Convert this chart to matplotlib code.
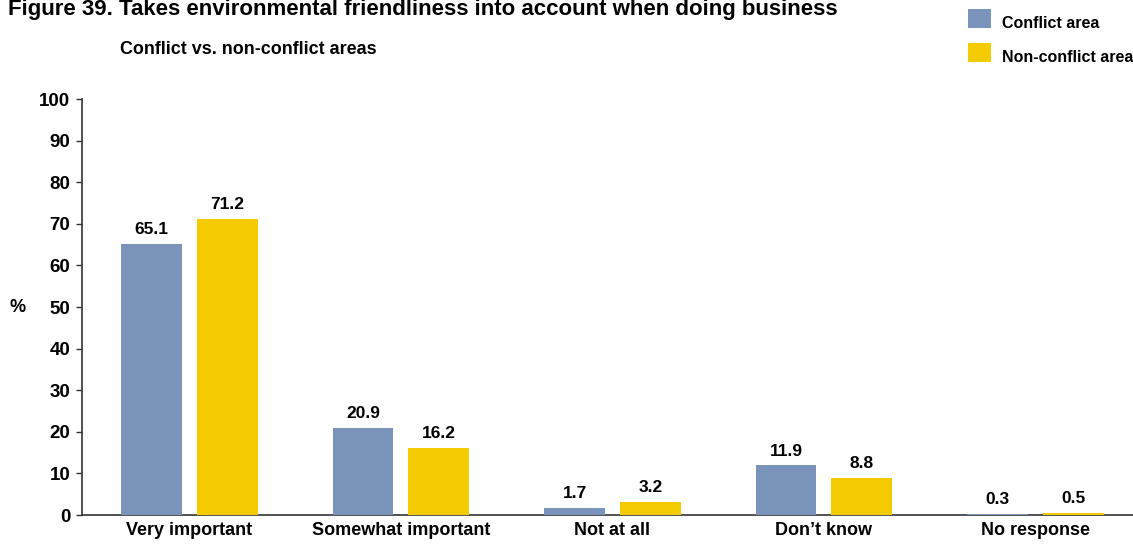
import matplotlib
matplotlib.use("Agg")
import matplotlib.pyplot as plt
from matplotlib.patches import Rectangle
from matplotlib.legend_handler import HandlerPatch
import numpy as np

categories = ["Very important", "Somewhat important", "Not at all", "Don\u2019t know", "No response"]
conflict = [65.1, 20.9, 1.7, 11.9, 0.3]
non_conflict = [71.2, 16.2, 3.2, 8.8, 0.5]
series_names = ["Conflict area", "Non-conflict area"]
yticks = [0, 10, 20, 30, 40, 50, 60, 70, 80, 90, 100]

BLUE = "#7A93BA"
YELLOW = "#F4CA00"
plt.rcParams['font.family'] = ['Liberation Sans', 'DejaVu Sans']
plt.rcParams['font.weight'] = 'bold'

W, H = 1133, 549
fig = plt.figure(figsize=(W/100, H/100), dpi=100)
ax = fig.add_axes([82/W, 1-515/H, (1133-82)/W, (515-99)/H])

x = np.arange(len(categories))
off = 0.359
bw = 0.288
b1 = ax.bar(x - off/2, conflict, bw, color=BLUE, label=series_names[0], zorder=3)
b2 = ax.bar(x + off/2, non_conflict, bw, color=YELLOW, label=series_names[1], zorder=3)
for bars, vals in ((b1, conflict), (b2, non_conflict)):
    for r, v in zip(bars, vals):
        ax.annotate(f"{v:.1f}", (r.get_x() + r.get_width()/2, v), xytext=(0, 5),
                    textcoords="offset points", ha="center", va="bottom",
                    fontsize=12.5, fontweight="bold")

ax.set_xlim(-0.508, 4.461)
ax.set_ylim(0, 100)
ax.set_yticks(yticks)
ax.set_yticklabels([str(t) for t in yticks], fontsize=13.5, fontweight="bold")
ax.set_xticks(x)
ax.set_xticklabels(categories, fontsize=13, fontweight="bold")
ax.tick_params(axis='x', length=0, pad=5)
ax.tick_params(axis='y', length=4.5, width=1, color="#333333", pad=4)
for s in ("top", "right"):
    ax.spines[s].set_visible(False)
for s in ("left", "bottom"):
    ax.spines[s].set_color("#333333")
    ax.spines[s].set_linewidth(1.2)

fig.text(9/W, 1-307/H, "%", fontsize=13, fontweight="bold", va="center", ha="left")
fig.text(8/W, 1-15/H, "Figure 39. Takes environmental friendliness into account when doing business",
         fontsize=16, fontweight="bold", va="baseline", ha="left")
fig.text(120/W, 1-50/H, "Conflict vs. non-conflict areas", fontsize=12.9, fontweight="bold",
         va="center", ha="left")


def square_on_baseline(legend, orig_handle, xdescent, ydescent, width, height, fontsize):
    return Rectangle((-xdescent, 0), width, height)


fs = 11.5
px = fs * 100 / 72
h1, h2 = b1.patches[0], b2.patches[0]
leg = fig.legend(handles=[h1, h2], labels=series_names, loc="upper left",
                 bbox_to_anchor=(968/W, 1-13/H), frameon=False, fontsize=fs,
                 handlelength=23/px, handleheight=23/px, handletextpad=11/px,
                 labelspacing=15/px, borderaxespad=0, borderpad=0,
                 handler_map={Rectangle: HandlerPatch(patch_func=square_on_baseline)})

fig.savefig("out.png", dpi=100)
